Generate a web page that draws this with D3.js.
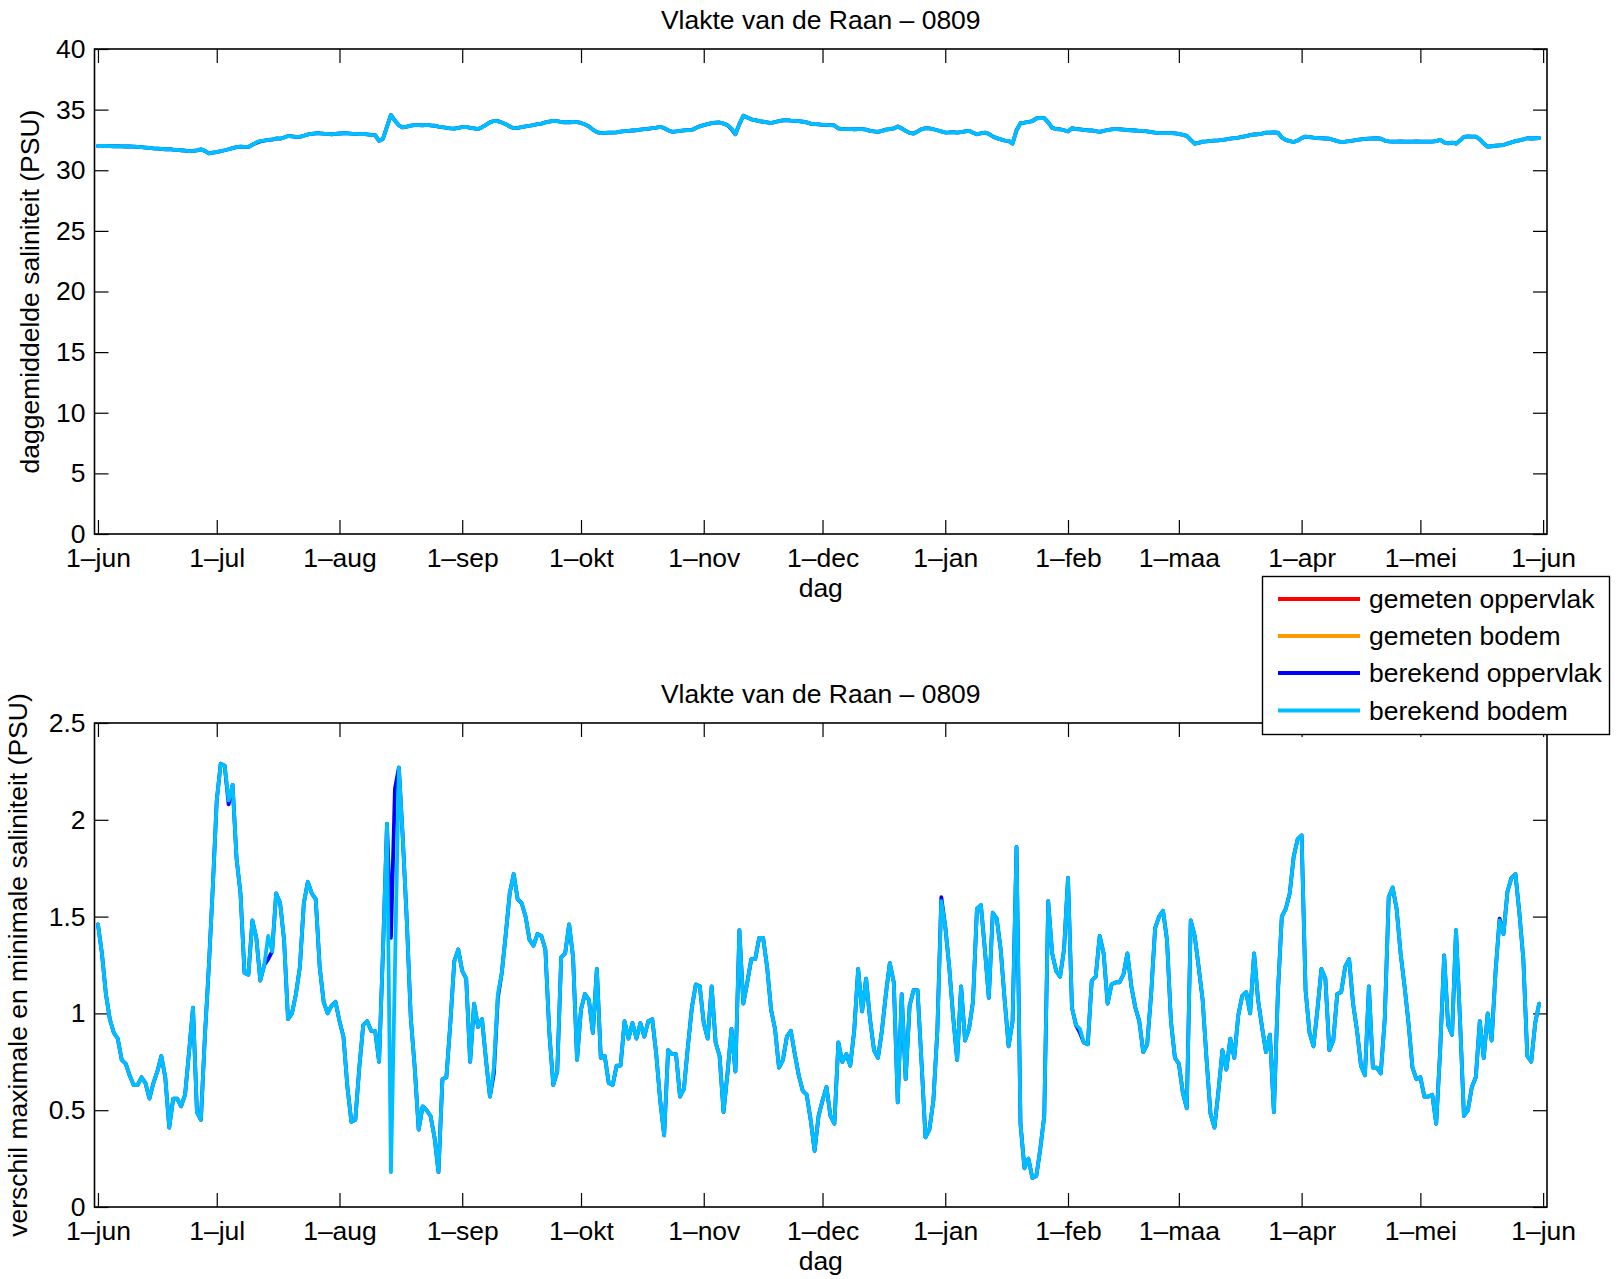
<!DOCTYPE html>
<html><head><meta charset="utf-8">
<script src="https://cdn.jsdelivr.net/npm/d3@7/dist/d3.min.js"></script>
<style>
body{margin:0;background:#fff}
svg{display:block}
text{font-family:"Liberation Sans",Arial,Helvetica,sans-serif;fill:#000}
</style>
</head><body>
<svg id="c" width="1618" height="1279"></svg>
<script>
// ---------------- data ----------------
const titel = "Vlakte van de Raan – 0809";
const xLabel = "dag";
const yLabelBoven = "daggemiddelde saliniteit (PSU)";
const yLabelOnder = "verschil maximale en minimale saliniteit (PSU)";
const maandLabels = ["1–jun","1–jul","1–aug","1–sep","1–okt","1–nov","1–dec","1–jan","1–feb","1–maa","1–apr","1–mei","1–jun"];
const yTicksBoven = [0,5,10,15,20,25,30,35,40];
const yTicksOnder = [0,0.5,1,1.5,2,2.5];
const reeksNamen = ["gemeten oppervlak","gemeten bodem","berekend oppervlak","berekend bodem"];
const reeksKleuren = ["#ff0000","#ff9900","#0000ff","#00bfff"];

// daily dates 1 jun 2008 .. 31 mei 2009
const startDag = new Date(2008,5,1);
const eindDag = new Date(2009,5,1);
const dagen = d3.timeDay.range(startDag, eindDag);

// measured series: no measurements available at this station in 0809
const gemetenOppervlakDag = [];
const gemetenBodemDag = [];
const gemetenOppervlakVerschil = [];
const gemetenBodemVerschil = [];

// computed bottom, daily mean salinity (PSU)
const berekendBodemDag = [
32.0,32.0,32.0,31.99,31.98,31.98,31.97,31.96,31.96,31.95,
31.93,31.9,31.87,31.84,31.8,31.78,31.76,31.72,31.74,31.7,
31.68,31.65,31.62,31.58,31.6,31.64,31.72,31.6,31.4,31.45,
31.5,31.58,31.65,31.73,31.82,31.9,31.95,31.93,31.92,32.1,
32.3,32.42,32.45,32.5,32.55,32.62,32.6,32.7,32.83,32.8,
32.76,32.75,32.85,32.95,33.0,33.05,33.05,33.02,33.0,32.97,
33.0,33.03,33.05,33.05,33.02,33.0,32.98,33.0,32.95,32.92,
32.9,32.42,32.6,33.6,34.56,34.1,33.7,33.53,33.6,33.68,
33.72,33.72,33.7,33.75,33.7,33.67,33.6,33.55,33.5,33.46,
33.44,33.5,33.55,33.58,33.5,33.45,33.39,33.55,33.75,33.95,
34.06,34.05,33.94,33.8,33.6,33.47,33.5,33.55,33.61,33.67,
33.73,33.8,33.85,33.95,34.02,34.08,34.05,33.98,33.94,33.96,
33.98,33.97,33.9,33.78,33.61,33.35,33.15,33.06,33.08,33.1,
33.11,33.13,33.18,33.22,33.25,33.28,33.3,33.35,33.39,33.42,
33.48,33.52,33.58,33.48,33.3,33.17,33.2,33.25,33.28,33.31,
33.32,33.48,33.62,33.72,33.8,33.88,33.92,33.94,33.85,33.72,
33.45,32.97,33.8,34.5,34.35,34.2,34.14,34.05,34.0,33.95,
33.89,33.98,34.05,34.12,34.14,34.1,34.08,34.05,34.0,33.95,
33.85,33.8,33.78,33.75,33.74,33.72,33.7,33.45,33.39,33.4,
33.42,33.38,33.4,33.39,33.35,33.25,33.2,33.17,33.25,33.35,
33.39,33.45,33.61,33.45,33.25,33.08,33.03,33.2,33.38,33.47,
33.45,33.38,33.3,33.2,33.11,33.12,33.15,33.11,33.15,33.2,
33.25,33.1,32.97,33.05,33.11,33.0,32.78,32.65,32.55,32.45,
32.42,32.2,33.3,33.89,33.92,33.98,34.05,34.28,34.31,34.3,
33.95,33.5,33.4,33.38,33.3,33.2,33.47,33.4,33.38,33.33,
33.3,33.28,33.22,33.17,33.25,33.32,33.38,33.42,33.38,33.35,
33.32,33.3,33.28,33.25,33.25,33.2,33.15,33.1,33.06,33.07,
33.06,33.06,33.05,33.0,32.92,32.83,32.5,32.2,32.26,32.36,
32.38,32.42,32.45,32.47,32.5,32.55,32.6,32.65,32.69,32.75,
32.82,32.9,32.95,32.97,33.02,33.1,33.11,33.12,33.11,32.7,
32.5,32.4,32.33,32.45,32.65,32.78,32.74,32.69,32.66,32.64,
32.62,32.6,32.5,32.4,32.33,32.36,32.4,32.45,32.5,32.55,
32.58,32.6,32.62,32.64,32.6,32.45,32.38,32.36,32.36,32.37,
32.36,32.36,32.36,32.37,32.36,32.36,32.36,32.36,32.4,32.5,
32.3,32.22,32.28,32.19,32.45,32.75,32.8,32.78,32.78,32.55,
32.2,31.94,31.98,32.02,32.05,32.08,32.2,32.3,32.4,32.47,
32.55,32.64,32.62,32.64,32.66];

// computed surface daily mean: coincides with bottom except these days
const oppervlakDagAfwijking = {40:32.26, 41:32.38, 44:32.52, 160:33.4};

// computed bottom, daily max - min salinity (PSU)
const berekendBodemVerschil = [
1.46,1.31,1.10,0.97,0.90,0.87,0.76,0.74,0.68,0.63,
0.63,0.67,0.64,0.56,0.64,0.70,0.78,0.67,0.41,0.56,
0.56,0.52,0.58,0.80,1.03,0.49,0.45,0.88,1.24,1.65,
2.10,2.29,2.28,2.10,2.18,1.80,1.62,1.21,1.20,1.48,
1.39,1.17,1.25,1.40,1.32,1.62,1.57,1.38,0.97,1.00,
1.10,1.24,1.57,1.68,1.62,1.59,1.24,1.06,1.00,1.04,
1.06,0.96,0.88,0.62,0.44,0.45,0.72,0.94,0.96,0.91,
0.91,0.75,1.33,1.98,0.18,1.22,2.27,1.90,1.48,0.98,
0.72,0.40,0.52,0.50,0.47,0.36,0.18,0.66,0.67,0.95,
1.27,1.33,1.22,1.18,0.75,1.05,0.93,0.97,0.76,0.57,
0.72,1.10,1.21,1.41,1.62,1.72,1.59,1.57,1.50,1.38,
1.35,1.41,1.40,1.33,0.90,0.63,0.70,1.29,1.31,1.46,
1.29,0.76,1.02,1.10,1.07,0.90,1.23,0.77,0.78,0.64,
0.63,0.73,0.73,0.96,0.87,0.95,0.87,0.95,0.88,0.96,
0.97,0.79,0.55,0.37,0.81,0.79,0.79,0.57,0.61,0.83,
1.03,1.15,1.14,0.95,0.87,1.14,0.85,0.78,0.49,0.69,
0.92,0.70,1.43,1.05,1.16,1.28,1.28,1.39,1.39,1.24,
1.02,0.92,0.72,0.76,0.88,0.91,0.79,0.68,0.60,0.58,
0.45,0.29,0.47,0.55,0.62,0.47,0.43,0.85,0.75,0.79,
0.73,0.91,1.23,1.01,1.18,0.97,0.81,0.77,0.91,1.10,
1.26,1.16,0.54,1.10,0.66,1.04,1.12,1.12,0.75,0.36,
0.40,0.55,0.91,1.58,1.45,1.24,0.98,0.76,1.14,0.86,
0.92,1.06,1.54,1.56,1.33,1.08,1.52,1.49,1.33,1.07,
0.83,0.96,1.86,0.43,0.20,0.25,0.15,0.16,0.30,0.47,
1.58,1.31,1.22,1.19,1.33,1.70,1.03,0.94,0.92,0.85,
0.84,1.17,1.19,1.40,1.31,1.05,1.15,1.16,1.16,1.20,
1.31,1.14,1.03,0.96,0.80,0.84,1.10,1.44,1.50,1.53,
1.38,0.96,0.77,0.74,0.59,0.51,1.48,1.40,1.24,1.07,
0.76,0.48,0.41,0.60,0.81,0.71,0.87,0.77,0.99,1.09,
1.11,1.00,1.31,1.07,0.93,0.80,0.89,0.49,1.10,1.50,
1.54,1.62,1.81,1.90,1.92,1.12,0.90,0.83,1.02,1.23,
1.18,0.81,0.86,1.10,1.11,1.24,1.28,1.05,0.91,0.73,
0.68,1.14,0.72,0.72,0.69,0.97,1.60,1.65,1.54,1.31,
1.14,0.95,0.72,0.66,0.67,0.57,0.57,0.58,0.43,0.81,
1.30,0.94,0.89,1.43,0.97,0.47,0.50,0.62,0.67,0.96,
0.77,1.00,0.86,1.22,1.48,1.41,1.63,1.70,1.72,1.52,
1.28,0.78,0.75,0.95,1.05];

// computed surface max-min: coincides with bottom except these days
const oppervlakVerschilAfwijking = {33:2.08, 43:1.28, 74:1.39, 75:2.16, 100:0.69, 101:1.08, 213:1.60, 248:0.90, 354:1.49};

const berekendOppervlakDag = berekendBodemDag.map((v,i) => (i in oppervlakDagAfwijking) ? oppervlakDagAfwijking[i] : v);
const berekendOppervlakVerschil = berekendBodemVerschil.map((v,i) => (i in oppervlakVerschilAfwijking) ? oppervlakVerschilAfwijking[i] : v);

// ---------------- drawing ----------------
const svg = d3.select("#c");
const FS = 26.5;
const L = 94.5, R = 1547;
const xDomain = [new Date(2008,4,31,3), new Date(2009,5,1,23,30)];
const x = d3.scaleTime().domain(xDomain).range([L, R]);
const maandTicks = d3.timeMonth.range(new Date(2008,5,1), new Date(2009,5,2));

function paneel(top, bottom, yDomain, yTicks, ylab, ylabX, series) {
  const y = d3.scaleLinear().domain(yDomain).range([bottom, top]);
  const g = svg.append("g");
  const TL = 14;
  const yl = g.append("g").attr("transform",`translate(${L},0)`)
    .call(d3.axisLeft(y).tickValues(yTicks).tickSizeInner(-TL).tickSizeOuter(0).tickPadding(9).tickFormat(d=>String(d)));
  const yr = g.append("g").attr("transform",`translate(${R},0)`)
    .call(d3.axisRight(y).tickValues(yTicks).tickSizeInner(-TL).tickSizeOuter(0).tickFormat(""));
  const xb = g.append("g").attr("transform",`translate(0,${bottom})`)
    .call(d3.axisBottom(x).tickValues(maandTicks).tickSizeInner(-TL).tickSizeOuter(0).tickPadding(14).tickFormat((d,i)=>maandLabels[i]));
  const xt = g.append("g").attr("transform",`translate(0,${top})`)
    .call(d3.axisTop(x).tickValues(maandTicks).tickSizeInner(-TL).tickSizeOuter(0).tickFormat(""));
  [yl,yr,xb,xt].forEach(a=>{
    a.select(".domain").remove();
    a.selectAll("line").attr("stroke","#000").attr("stroke-width",1.2);
    a.selectAll("text").attr("font-size",FS).attr("font-family",null).attr("fill","#000");
  });
  const line = d3.line().defined(d=>d!=null && !isNaN(d)).x((d,i)=>x(dagen[i])).y(d=>y(d));
  series.forEach((s,k)=>{
    if (!s.length) return;
    g.append("path").datum(s).attr("d",line).attr("fill","none")
      .attr("stroke",reeksKleuren[k]).attr("stroke-width",3.8)
      .attr("stroke-linejoin","round").attr("stroke-linecap","round");
  });
  g.append("rect").attr("x",L).attr("y",top).attr("width",R-L).attr("height",bottom-top)
    .attr("fill","none").attr("stroke","#000").attr("stroke-width",1.6);
  g.append("text").attr("x",(L+R)/2).attr("y",top-20).attr("text-anchor","middle").attr("font-size",FS).text(titel);
  g.append("text").attr("x",(L+R)/2).attr("y",bottom+63).attr("text-anchor","middle").attr("font-size",FS).text(xLabel);
  g.append("text").attr("transform",`translate(${ylabX},${(top+bottom)/2}) rotate(-90)`)
    .attr("text-anchor","middle").attr("font-size",FS).text(ylab);
}

paneel(49, 534, [0,40], yTicksBoven, yLabelBoven, 39,
  [gemetenOppervlakDag, gemetenBodemDag, berekendOppervlakDag, berekendBodemDag]);
paneel(723, 1207, [0,2.5], yTicksOnder, yLabelOnder, 27,
  [gemetenOppervlakVerschil, gemetenBodemVerschil, berekendOppervlakVerschil, berekendBodemVerschil]);

// legend
const lg = svg.append("g");
lg.append("rect").attr("x",1262.5).attr("y",576.5).attr("width",347).attr("height",158)
  .attr("fill","#fff").attr("stroke","#000").attr("stroke-width",1.4);
const legY = [599, 636, 673, 710.5];
reeksNamen.forEach((n,k)=>{
  lg.append("line").attr("x1",1278).attr("x2",1360).attr("y1",legY[k]).attr("y2",legY[k])
    .attr("stroke",reeksKleuren[k]).attr("stroke-width",3.8);
  lg.append("text").attr("x",1369).attr("y",legY[k]).attr("dy","0.35em").attr("font-size",FS).text(n);
});
</script>
</body></html>
